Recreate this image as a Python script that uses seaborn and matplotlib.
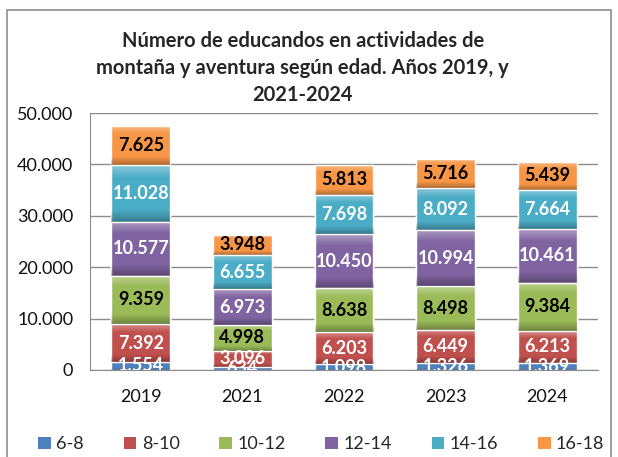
import numpy as np
import pandas as pd
import seaborn as sns
import matplotlib.pyplot as plt
from matplotlib.patches import Patch, Rectangle
from matplotlib.ticker import FuncFormatter

years = ['2019', '2021', '2022', '2023', '2024']
groups = ['6-8', '8-10', '10-12', '12-14', '14-16', '16-18']
v_6_8 = [1554, 634, 1098, 1326, 1369]
v_8_10 = [7392, 3096, 6203, 6449, 6213]
v_10_12 = [9359, 4998, 8638, 8498, 9384]
v_12_14 = [10577, 6973, 10450, 10994, 10461]
v_14_16 = [11028, 6655, 7698, 8092, 7664]
v_16_18 = [7625, 3948, 5813, 5716, 5439]

colors = ['#4F81BD', '#C0504D', '#9BBB59', '#8064A2', '#4BACC6', '#F79646']
label_colors = ['white', 'white', 'black', 'white', 'white', 'black']

values = np.array([v_6_8, v_8_10, v_10_12, v_12_14, v_14_16, v_16_18])
cum = values.cumsum(axis=0)

rows = []
for i, g in enumerate(groups):
    for j, y in enumerate(years):
        rows.append({'year': y, 'group': g, 'value': values[i, j], 'cum': cum[i, j]})
df = pd.DataFrame(rows)

sns.set_style('white')
plt.rcParams['font.family'] = ['Lato', 'DejaVu Sans']

fig = plt.figure(figsize=(6.18, 4.57), dpi=100)
ax = fig.add_axes([0.1456, 0.1904, 0.8220, 0.5623])

# draw stacked bars, top segment first
for i in reversed(range(len(groups))):
    sub = df[df['group'] == groups[i]]
    sns.barplot(data=sub, x='year', y='cum', color=colors[i], width=0.58,
                saturation=1, ax=ax, zorder=2)

ax.set_ylim(0, 50000)
ax.set_xlim(-0.5, len(years) - 0.5)

# bevel look: shade each visible segment (light top edge, dark bottom edge)
shade = np.zeros((40, 1, 4))
t = np.linspace(0, 1, 40)
shade[:, 0, :3] = np.where(t[:, None] < 0.5, 1.0, 0.0)
shade[:, 0, 3] = np.clip(np.where(t < 0.5, 0.35 - t * 1.6, (t - 0.8) * 1.4), 0, 1)
for i in range(len(groups)):
    for j in range(len(years)):
        lo, hi = cum[i, j] - values[i, j], cum[i, j]
        ax.imshow(shade, extent=(j - 0.29, j + 0.29, lo, hi), aspect='auto',
                  origin='upper', zorder=3, interpolation='bilinear')
ax.set_ylim(0, 50000)
ax.set_xlim(-0.5, len(years) - 0.5)

ax.set_yticks(np.arange(0, 50001, 10000))
ax.yaxis.set_major_formatter(FuncFormatter(lambda v, p: f'{int(v):,}'.replace(',', '.')))
ax.grid(axis='y', color='#8c8c8c', linewidth=1, zorder=0)
ax.set_axisbelow(True)
for s in ['top', 'right']:
    ax.spines[s].set_visible(False)
for s in ['left', 'bottom']:
    ax.spines[s].set_color('#8c8c8c')
ax.tick_params(axis='both', length=0, labelsize=13, colors='#111111')
ax.tick_params(axis='x', pad=14)
ax.tick_params(axis='y', pad=12)
ax.set_xlabel('')
ax.set_ylabel('')

# segment labels
for i in range(len(groups)):
    for j in range(len(years)):
        ax.text(j, cum[i, j] - values[i, j] / 2, f'{values[i, j]:,}'.replace(',', '.'),
                ha='center', va='center', fontsize=13, fontweight='bold',
                color=label_colors[i], zorder=5, clip_on=True)

fig.text(0.49, 0.851, 'Número de educandos en actividades de\nmontaña y aventura según edad. Años 2019, y\n2021-2024',
         ha='center', va='center', fontsize=14.5, fontweight='bold', linespacing=1.45)

handles = [Patch(facecolor=c, edgecolor='none') for c in colors]
fig.legend(handles, groups, loc='center', bbox_to_anchor=(0.52, 0.028), ncol=6, frameon=False,
           fontsize=13, handlelength=0.7, handleheight=0.7, handletextpad=0.3, columnspacing=2.2)

# outer frame
fig.add_artist(Rectangle((0.011, -0.05), 0.978, 1.028, transform=fig.transFigure,
                         fill=False, edgecolor='#8c8c8c', linewidth=1.2))

fig.savefig('out.png', dpi=100)
